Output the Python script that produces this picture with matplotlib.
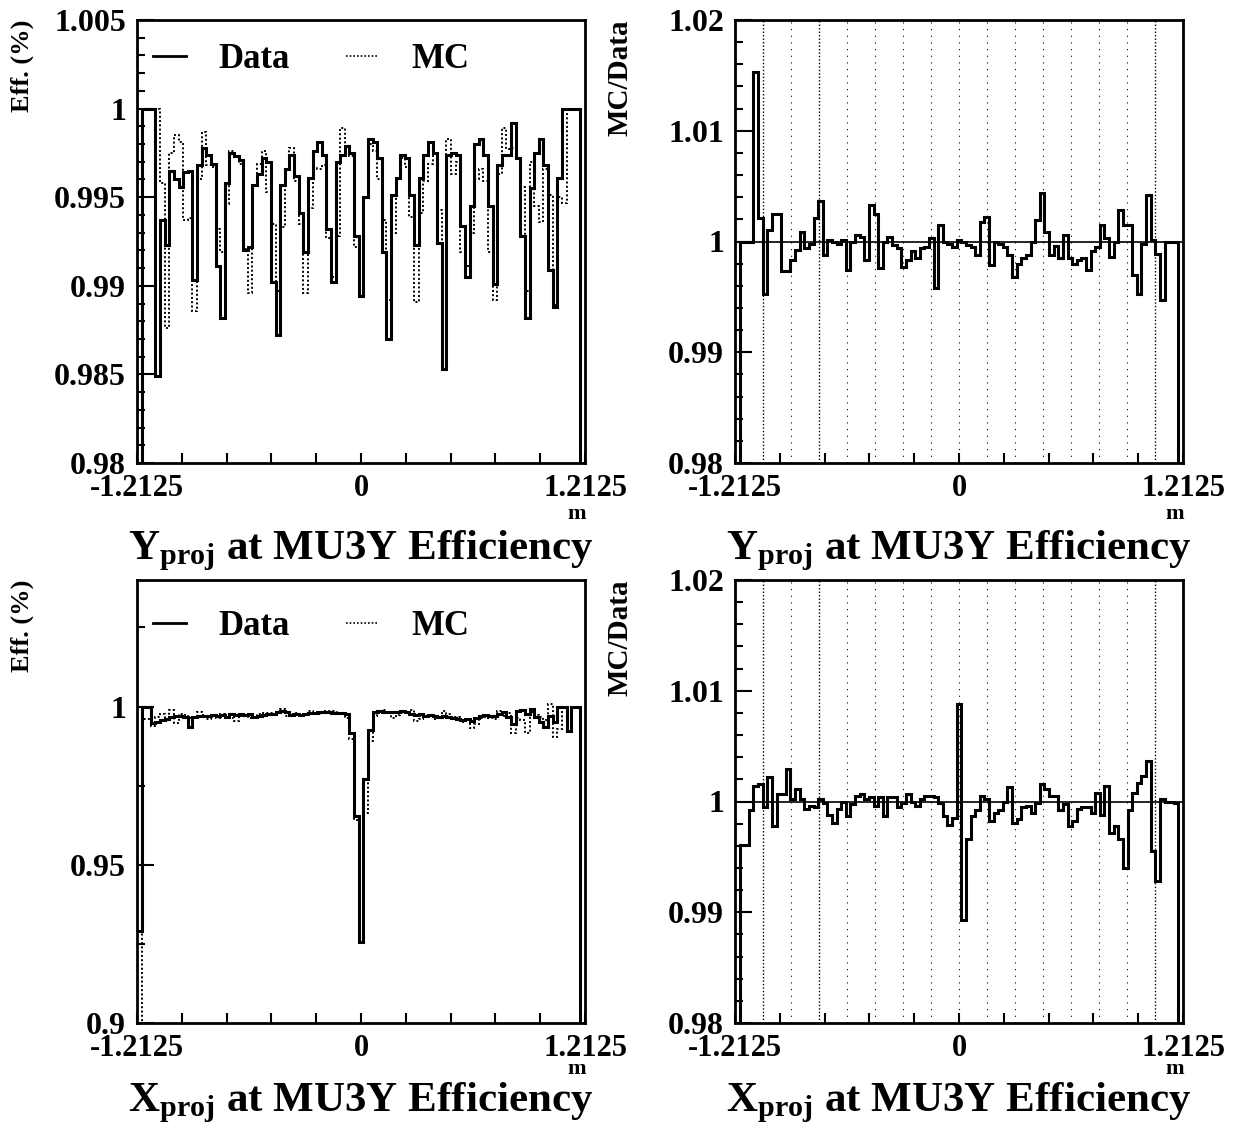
import numpy as np
import matplotlib.pyplot as plt
from matplotlib.ticker import MultipleLocator, FixedLocator
from matplotlib.lines import Line2D

plt.rcParams['font.family'] = ['Liberation Serif', 'DejaVu Serif']
plt.rcParams['font.weight'] = 'bold'
plt.rcParams['mathtext.fontset'] = 'custom'
plt.rcParams['mathtext.rm'] = 'Liberation Serif:bold'
plt.rcParams['mathtext.bf'] = 'Liberation Serif:bold'
plt.rcParams['mathtext.it'] = 'Liberation Serif:bold'

XMIN, XMAX = -1.2125, 1.2125
edges = np.linspace(XMIN, XMAX, 98)   # 97 bins of 0.025 m

# --- Y_proj efficiency (97 bins) ---
eff_y_data = [
    0.0, 1.0, 1.0, 1.0, 0.9849, 0.9937, 0.9923, 0.9965, 0.9960, 0.9956,
    0.9964, 0.9965, 0.9903, 0.9968, 0.9978, 0.9974, 0.9969, 0.9911, 0.9882, 0.9958,
    0.9975, 0.9973, 0.9971, 0.9920, 0.9922, 0.9957, 0.9963, 0.9972, 0.9970, 0.9902,
    0.9872, 0.9957, 0.9966, 0.9974, 0.9962, 0.9941, 0.9919, 0.9961, 0.9976, 0.9981,
    0.9974, 0.9932, 0.9902, 0.9970, 0.9974, 0.9979, 0.9975, 0.9928, 0.9894, 0.9950,
    0.9983, 0.9981, 0.9972, 0.9919, 0.9870, 0.9951, 0.9961, 0.9974, 0.9972, 0.9951,
    0.9923, 0.9961, 0.9974, 0.9981, 0.9975, 0.9924, 0.9853, 0.9974, 0.9975, 0.9974,
    0.9934, 0.9905, 0.9945, 0.9980, 0.9983, 0.9974, 0.9945, 0.9901, 0.9968, 0.9974,
    0.9974, 0.9992, 0.9972, 0.9928, 0.9882, 0.9955, 0.9975, 0.9983, 0.9968, 0.9909,
    0.9888, 0.9961, 1.0, 1.0, 1.0, 1.0, 0.0,
]
eff_y_mc = [
    0.0, 1.0, 1.0, 1.0, 1.0, 0.9958, 0.9876, 0.9975, 0.9985, 0.9981,
    0.9937, 0.9938, 0.9886, 0.9960, 0.9987, 0.9968, 0.9967, 0.9932, 0.9919, 0.9946,
    0.9976, 0.9973, 0.9969, 0.9921, 0.9896, 0.9957, 0.9969, 0.9976, 0.9953, 0.9935,
    0.9897, 0.9933, 0.9966, 0.9978, 0.9959, 0.9935, 0.9896, 0.9944, 0.9967, 0.9966,
    0.9968, 0.9927, 0.9905, 0.9928, 0.9989, 0.9979, 0.9973, 0.9922, 0.9895, 0.9950,
    0.9980, 0.9976, 0.9960, 0.9937, 0.9892, 0.9930, 0.9961, 0.9972, 0.9967, 0.9939,
    0.9891, 0.9941, 0.9959, 0.9969, 0.9975, 0.9943, 0.9897, 0.9983, 0.9963, 0.9970,
    0.9919, 0.9911, 0.9930, 0.9960, 0.9966, 0.9959, 0.9919, 0.9892, 0.9963, 0.9989,
    0.9977, 0.9978, 0.9972, 0.9956, 0.9897, 0.9970, 0.9945, 0.9936, 0.9966, 0.9951,
    0.9889, 0.9950, 0.9947, 1.0, 1.0, 1.0, 0.0,
]
ratio_y = [
    0.0, 1.0, 1.0, 1.0, 1.0153, 1.0021, 0.9953, 1.0010, 1.0025, 1.0025,
    0.9973, 0.9973, 0.9983, 0.9992, 1.0009, 0.9994, 0.9998, 1.0021, 1.0037, 0.9988,
    1.0001, 1.0000, 0.9998, 1.0001, 0.9974, 1.0000, 1.0006, 1.0004, 0.9983, 1.0033,
    1.0025, 0.9976, 1.0000, 1.0004, 0.9997, 0.9994, 0.9977, 0.9983, 0.9991, 0.9985,
    0.9994, 0.9995, 1.0003, 0.9958, 1.0015, 1.0000, 0.9998, 0.9995, 1.0001, 1.0000,
    0.9997, 0.9995, 0.9988, 1.0018, 1.0022, 0.9979, 1.0000, 0.9998, 0.9995, 0.9988,
    0.9968, 0.9980, 0.9985, 0.9988, 1.0000, 1.0019, 1.0044, 1.0009, 0.9988, 0.9996,
    0.9985, 1.0006, 0.9985, 0.9980, 0.9983, 0.9985, 0.9974, 0.9991, 0.9995, 1.0015,
    1.0003, 0.9986, 1.0000, 1.0028, 1.0015, 1.0015, 0.9970, 0.9953, 0.9998, 1.0042,
    1.0001, 0.9989, 0.9947, 1.0, 1.0, 1.0, 0.0,
]

# --- X_proj efficiency (97 bins) ---
eff_x_data = [
    0.9290, 1.0, 1.0, 0.9948, 0.9952, 0.9959, 0.9961, 0.9966, 0.9971, 0.9969,
    0.9966, 0.9934, 0.9966, 0.9971, 0.9971, 0.9969, 0.9973, 0.9969, 0.9973, 0.9968,
    0.9977, 0.9974, 0.9977, 0.9973, 0.9977, 0.9966, 0.9971, 0.9973, 0.9977, 0.9977,
    0.9984, 0.9987, 0.9982, 0.9973, 0.9977, 0.9974, 0.9977, 0.9979, 0.9980, 0.9982,
    0.9984, 0.9982, 0.9980, 0.9979, 0.9979, 0.9977, 0.9918, 0.9654, 0.9257, 0.9770,
    0.9925, 0.9982, 0.9987, 0.9984, 0.9982, 0.9982, 0.9984, 0.9987, 0.9982, 0.9977,
    0.9973, 0.9977, 0.9971, 0.9973, 0.9971, 0.9966, 0.9971, 0.9966, 0.9963, 0.9961,
    0.9959, 0.9961, 0.9955, 0.9963, 0.9971, 0.9973, 0.9969, 0.9971, 0.9977, 0.9982,
    0.9966, 0.9945, 0.9987, 0.9990, 0.9977, 0.9992, 0.9966, 0.9950, 0.9934, 0.9971,
    0.9950, 1.0, 1.0, 0.9923, 1.0, 1.0, 0.0,
]
eff_x_mc = [
    0.0, 0.9961, 0.9961, 0.9940, 0.9966, 0.9975, 0.9956, 0.9988, 0.9949, 0.9976,
    0.9973, 0.9963, 0.9968, 0.9982, 0.9973, 0.9962, 0.9969, 0.9964, 0.9975, 0.9967,
    0.9965, 0.9955, 0.9970, 0.9973, 0.9964, 0.9964, 0.9976, 0.9980, 0.9979, 0.9981,
    0.9980, 0.9991, 0.9969, 0.9977, 0.9981, 0.9969, 0.9976, 0.9986, 0.9980, 0.9978,
    0.9986, 0.9987, 0.9985, 0.9983, 0.9978, 0.9964, 0.9897, 0.9640, 0.9338, 0.9665,
    0.9891, 0.9969, 0.9979, 0.9989, 0.9984, 0.9964, 0.9974, 0.9979, 0.9982, 0.9990,
    0.9954, 0.9961, 0.9966, 0.9969, 0.9961, 0.9965, 0.9987, 0.9977, 0.9968, 0.9966,
    0.9951, 0.9959, 0.9933, 0.9945, 0.9964, 0.9968, 0.9964, 0.9961, 0.9985, 0.9970,
    0.9980, 0.9917, 0.9965, 0.9956, 0.9917, 0.9984, 0.9974, 0.9967, 0.9957, 1.0008,
    0.9905, 0.9928, 1.0, 0.9923, 1.0, 1.0, 0.0,
]
ratio_x = [
    0.0, 0.9961, 0.9961, 0.9992, 1.0014, 1.0016, 0.9995, 1.0022, 0.9978, 1.0007,
    1.0007, 1.0029, 1.0002, 1.0011, 1.0002, 0.9993, 0.9996, 0.9995, 1.0002, 0.9999,
    0.9988, 0.9981, 0.9993, 1.0000, 0.9987, 0.9998, 1.0005, 1.0007, 1.0002, 1.0004,
    0.9996, 1.0004, 0.9987, 1.0004, 1.0004, 0.9995, 0.9999, 1.0007, 1.0000, 0.9996,
    1.0002, 1.0005, 1.0005, 1.0004, 0.9999, 0.9987, 0.9979, 0.9985, 1.0088, 0.9893,
    0.9966, 0.9987, 0.9992, 1.0005, 1.0002, 0.9982, 0.9990, 0.9992, 1.0000, 1.0013,
    0.9981, 0.9984, 0.9995, 0.9996, 0.9990, 0.9999, 1.0016, 1.0011, 1.0005, 1.0005,
    0.9992, 0.9998, 0.9978, 0.9982, 0.9993, 0.9995, 0.9995, 0.9990, 1.0008, 0.9988,
    1.0014, 0.9972, 0.9978, 0.9966, 0.9940, 0.9992, 1.0008, 1.0017, 1.0023, 1.0037,
    0.9955, 0.9928, 1.0002, 1.0000, 1.0000, 0.9999, 0.0,
]

# dotted grid lines in the ratio plots (dense ones are counter boundaries)
grid_pos = np.linspace(XMIN, XMAX, 17)[1:-1]
grid_dense = [0, 2, 14]

TICK_FS = 23
xtick_pos = np.linspace(XMIN, XMAX, 11)
W, H = 1243, 1127


def style_axes(ax, ylo, yhi, major, minor):
    ax.set_xlim(XMIN, XMAX)
    ax.set_ylim(ylo, yhi)
    for s in ax.spines.values():
        s.set_linewidth(2)
    ax.xaxis.set_major_locator(FixedLocator(xtick_pos))
    ax.set_xticklabels(['-1.2125' if i == 0 else '0' if i == 5 else '1.2125' if i == 10 else ''
                        for i in range(11)])
    ax.yaxis.set_major_locator(MultipleLocator(major))
    ax.yaxis.set_minor_locator(MultipleLocator(minor))
    ax.yaxis.set_major_formatter(plt.FuncFormatter(lambda v, p: f"{v:g}"))
    ax.tick_params(axis='both', which='both', direction='in', top=False, right=False,
                   labelsize=TICK_FS, width=1.5)
    ax.tick_params(axis='y', which='major', length=12, pad=8)
    ax.tick_params(axis='y', which='minor', length=6)
    ax.tick_params(axis='x', which='major', length=7, pad=8, labelsize=22)


def finish(ax, title, ylab, ylab_fs, title_y, m_y):
    ax.text(-0.257, 1.0, ylab, transform=ax.transAxes, rotation=90, ha='center', va='top',
            fontsize=ylab_fs, fontweight='bold')
    bb = ax.get_position()
    xc = (bb.x0 + bb.x1) / 2
    fig.text(xc, 1 - title_y / H, title, ha='center', va='baseline',
             fontsize=31, fontweight='bold')
    fig.text(bb.x1 - 8 / W, 1 - m_y / H, 'm', ha='center', va='baseline',
             fontsize=16, fontweight='bold')


def eff_panel(ax, data, mc, ylo, yhi, major, minor, title, title_y, m_y, leg_y):
    ax.stairs(mc, edges, color='k', lw=1.4, ls=(0, (1, 1.2)), baseline=None)
    ax.stairs(data, edges, color='k', lw=2.2, baseline=None)
    style_axes(ax, ylo, yhi, major, minor)
    h = [Line2D([], [], color='k', lw=2), Line2D([], [], color='k', lw=1.2, ls=(0, (1, 1.2)))]
    ax.legend(h, ['Data', 'MC'], ncol=2, frameon=False, loc='center left',
              bbox_to_anchor=(0.035, leg_y), fontsize=25, handlelength=0.95,
              handletextpad=0.95, columnspacing=1.6, borderaxespad=0, borderpad=0)
    finish(ax, title, 'Eff. (%)', 19, title_y, m_y)


def ratio_panel(ax, ratio, title, title_y, m_y):
    for i, g in enumerate(grid_pos):
        if i in grid_dense:
            ax.axvline(g, color='k', lw=1.0, ls=(0, (1, 1.5)))
        else:
            ax.axvline(g, color='k', lw=0.8, ls=(0, (1, 5)))
    ax.axhline(1.0, color='k', lw=1.2)
    ax.stairs(ratio, edges, color='k', lw=2.2, baseline=None)
    style_axes(ax, 0.98, 1.02, 0.01, 0.002)
    finish(ax, title, 'MC/Data', 21, title_y, m_y)


fig = plt.figure(figsize=(12.43, 11.27), dpi=100)
ax_tl = fig.add_axes([137 / W, 1 - 463 / H, 448 / W, 443 / H])
ax_tr = fig.add_axes([735 / W, 1 - 463 / H, 448 / W, 443 / H])
ax_bl = fig.add_axes([137 / W, 1 - 1023 / H, 448 / W, 443 / H])
ax_br = fig.add_axes([735 / W, 1 - 1023 / H, 448 / W, 443 / H])

ytitle = r'Y$_{\mathbf{proj}}$ at MU3Y Efficiency'
xtitle = r'X$_{\mathbf{proj}}$ at MU3Y Efficiency'

eff_panel(ax_tl, eff_y_data, eff_y_mc, 0.98, 1.005, 0.005, 0.001, ytitle, 559, 519, 0.91)
ratio_panel(ax_tr, ratio_y, ytitle, 559, 519)
eff_panel(ax_bl, eff_x_data, eff_x_mc, 0.9, 1.04, 0.05, 0.025, xtitle, 1111, 1074, 0.895)
ratio_panel(ax_br, ratio_x, xtitle, 1111, 1074)

fig.savefig('out.png', dpi=100)
